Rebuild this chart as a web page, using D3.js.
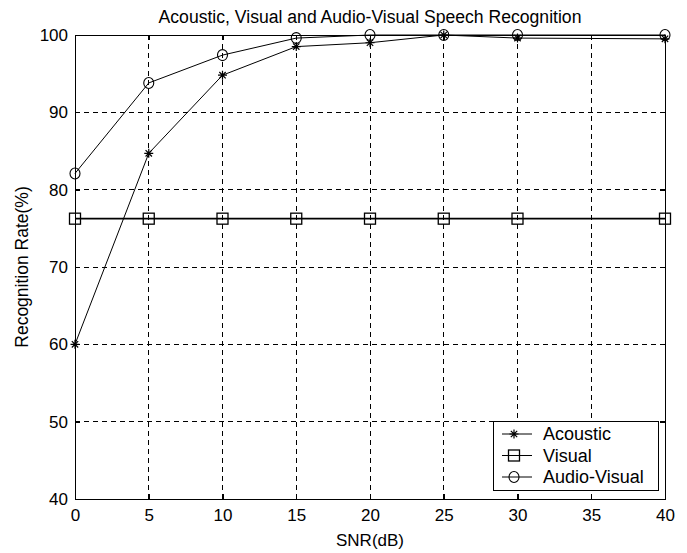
<!DOCTYPE html>
<html>
<head>
<meta charset="utf-8">
<script src="https://cdn.jsdelivr.net/npm/d3@7"></script>
<style>
  body { margin: 0; background: #fff; }
  svg text { font-family: "Liberation Sans", Arial, sans-serif; fill: #000; }
</style>
</head>
<body>
<div id="chart"></div>
<script>
// values
var snr = [0, 5, 10, 15, 20, 25, 30, 40];
var acoustic = [60, 84.7, 94.8, 98.5, 99.0, 100, 99.6, 99.5];
var visual = [76.25, 76.25, 76.25, 76.25, 76.25, 76.25, 76.25, 76.25];
var audioVisual = [82.1, 93.8, 97.4, 99.6, 100, 100, 100, 100];
var xTicks = [0, 5, 10, 15, 20, 25, 30, 35, 40];
var yTicks = [40, 50, 60, 70, 80, 90, 100];
var seriesNames = ['Acoustic', 'Visual', 'Audio-Visual'];

var width = 687, height = 553;
var margin = {top: 35, right: 22, bottom: 54, left: 75};
var plotW = width - margin.left - margin.right;
var plotH = height - margin.top - margin.bottom;

var svg = d3.select('#chart').append('svg')
    .attr('width', width)
    .attr('height', height);

var g = svg.append('g')
    .attr('transform', 'translate(' + margin.left + ',' + margin.top + ')');

var x = d3.scaleLinear().domain([0, 40]).range([0, plotW]);
var y = d3.scaleLinear().domain([40, 100]).range([plotH, 0]);

// dashed grid
g.append('g').selectAll('line.vgrid')
    .data(xTicks.slice(1, -1))
    .enter().append('line')
    .attr('x1', function (d) { return x(d); })
    .attr('x2', function (d) { return x(d); })
    .attr('y1', 0).attr('y2', plotH)
    .attr('stroke', '#000').attr('stroke-width', 1)
    .attr('stroke-dasharray', '5,4')
    .attr('shape-rendering', 'crispEdges');

g.append('g').selectAll('line.hgrid')
    .data(yTicks.slice(1, -1))
    .enter().append('line')
    .attr('y1', function (d) { return y(d); })
    .attr('y2', function (d) { return y(d); })
    .attr('x1', 0).attr('x2', plotW)
    .attr('stroke', '#000').attr('stroke-width', 1)
    .attr('stroke-dasharray', '5,4')
    .attr('shape-rendering', 'crispEdges');

// axes, ticks pointing inward
function styleAxis(sel) {
    sel.select('.domain').remove();
    sel.selectAll('line').attr('stroke', '#000').attr('shape-rendering', 'crispEdges');
    sel.selectAll('text').style('font-size', '17px').attr('fill', '#000');
}

g.append('g')
    .attr('transform', 'translate(0,' + plotH + ')')
    .call(d3.axisBottom(x).tickValues(xTicks).tickSize(-5).tickPadding(10).tickFormat(d3.format('d')))
    .call(styleAxis);

g.append('g')
    .call(d3.axisTop(x).tickValues(xTicks).tickSize(-5).tickFormat(''))
    .call(styleAxis);

g.append('g')
    .call(d3.axisLeft(y).tickValues(yTicks).tickSize(-5).tickPadding(7).tickFormat(d3.format('d')))
    .call(styleAxis);

g.append('g')
    .attr('transform', 'translate(' + plotW + ',0)')
    .call(d3.axisRight(y).tickValues(yTicks).tickSize(-5).tickFormat(''))
    .call(styleAxis);

g.append('rect')
    .attr('x', 0).attr('y', 0)
    .attr('width', plotW).attr('height', plotH)
    .attr('fill', 'none').attr('stroke', '#000').attr('stroke-width', 1)
    .attr('shape-rendering', 'crispEdges');

// markers
function drawMarker(sel, type) {
    if (type === 'star') {
        var r = 4.5, d = r * Math.SQRT1_2;
        sel.append('path')
            .attr('d', 'M' + (-r) + ',0L' + r + ',0M0,' + (-r) + 'L0,' + r +
                'M' + (-d) + ',' + (-d) + 'L' + d + ',' + d +
                'M' + (-d) + ',' + d + 'L' + d + ',' + (-d))
            .attr('stroke', '#000').attr('stroke-width', 1.2).attr('fill', 'none');
    } else if (type === 'square') {
        sel.append('rect')
            .attr('x', -5.5).attr('y', -5.5).attr('width', 11).attr('height', 11)
            .attr('fill', 'none').attr('stroke', '#000').attr('stroke-width', 1.3);
    } else {
        sel.append('ellipse')
            .attr('rx', 5).attr('ry', 5.5)
            .attr('fill', 'none').attr('stroke', '#000').attr('stroke-width', 1.1);
    }
}

var series = [
    {name: seriesNames[0], values: acoustic, marker: 'star'},
    {name: seriesNames[1], values: visual, marker: 'square'},
    {name: seriesNames[2], values: audioVisual, marker: 'circle'}
];

var line = d3.line()
    .x(function (d) { return x(d[0]); })
    .y(function (d) { return y(d[1]); });

series.forEach(function (s) {
    var pts = snr.map(function (v, i) { return [v, s.values[i]]; });
    g.append('path')
        .datum(pts)
        .attr('d', line)
        .attr('fill', 'none')
        .attr('stroke', '#000')
        .attr('stroke-width', s.marker === 'square' ? 1.6 : 1);
    g.append('g').selectAll('g.pt')
        .data(pts)
        .enter().append('g')
        .attr('transform', function (d) { return 'translate(' + x(d[0]) + ',' + y(d[1]) + ')'; })
        .each(function () { drawMarker(d3.select(this), s.marker); });
});

// title and labels
svg.append('text')
    .attr('x', margin.left + plotW / 2)
    .attr('y', 23)
    .attr('text-anchor', 'middle')
    .style('font-size', '17.6px')
    .text('Acoustic, Visual and Audio-Visual Speech Recognition');

svg.append('text')
    .attr('x', margin.left + plotW / 2)
    .attr('y', 546)
    .attr('text-anchor', 'middle')
    .style('font-size', '17px')
    .text('SNR(dB)');

svg.append('text')
    .attr('transform', 'translate(28,' + (margin.top + plotH / 2) + ') rotate(-90)')
    .attr('text-anchor', 'middle')
    .style('font-size', '17.5px')
    .text('Recognition Rate(%)');

// legend
var legend = g.append('g')
    .attr('transform', 'translate(' + (plotW - 172) + ',' + (plotH - 78) + ')');

legend.append('rect')
    .attr('x', 0).attr('y', 0).attr('width', 165).attr('height', 69)
    .attr('fill', '#fff').attr('stroke', '#000').attr('stroke-width', 1)
    .attr('shape-rendering', 'crispEdges');

series.forEach(function (s, i) {
    var row = legend.append('g')
        .attr('transform', 'translate(0,' + (13 + i * 21.5) + ')');
    row.append('line')
        .attr('x1', 9).attr('x2', 39).attr('y1', 0).attr('y2', 0)
        .attr('stroke', '#000').attr('stroke-width', 1);
    var m = row.append('g').attr('transform', 'translate(21,0)');
    drawMarker(m, s.marker);
    row.append('text')
        .attr('x', 50).attr('y', 0).attr('dy', '0.36em')
        .style('font-size', '18px')
        .text(s.name);
});
</script>
</body>
</html>
